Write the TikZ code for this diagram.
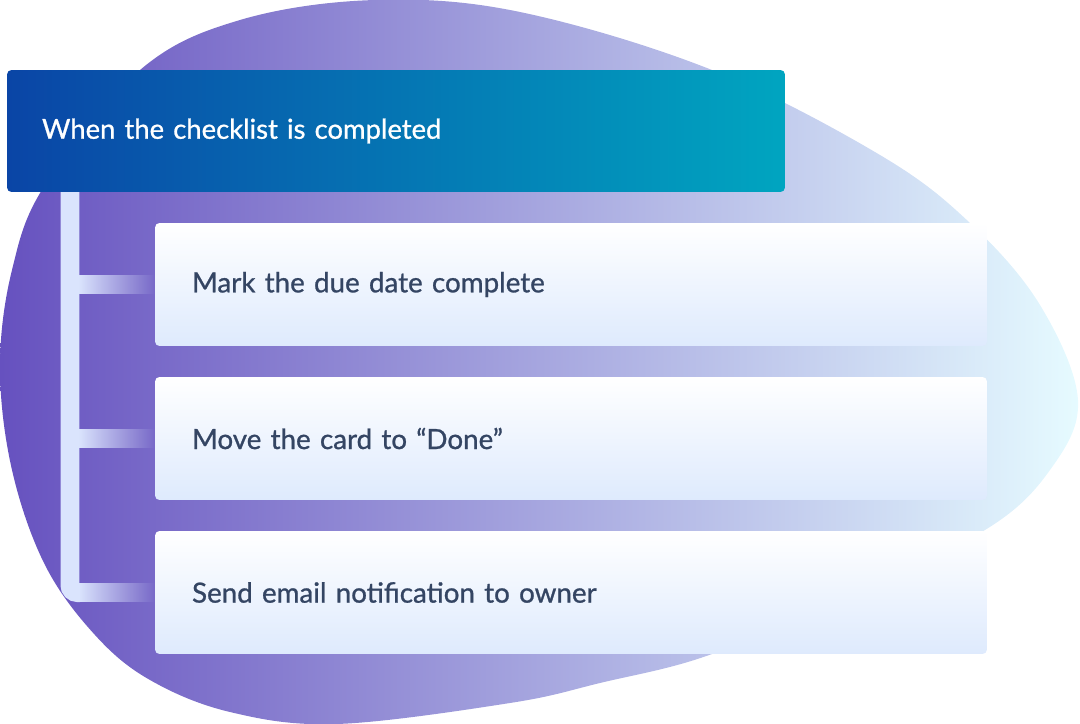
\documentclass[tikz,border=0pt]{standalone}
\usepackage{fontspec}
\setmainfont{Lato}[FakeBold=0.9]
\usepackage{xcolor}
\usetikzlibrary{positioning,calc,fadings}
\definecolor{blobleft}{HTML}{6651BF}
\definecolor{blobmid}{HTML}{9D99DA}
\definecolor{blobright}{HTML}{E6FBFF}
\definecolor{hdleft}{HTML}{0A45A6}
\definecolor{hdright}{HTML}{00A5C0}
\definecolor{cardbot}{HTML}{DEEAFD}
\definecolor{barlight}{HTML}{DAE4FD}
\definecolor{cardink}{HTML}{344563}

\begin{document}
\begin{tikzpicture}[x=0.02cm,y=-0.02cm,
  head/.style={rectangle,rounded corners=2.5pt,left color=hdleft,right color=hdright,
               text=white,minimum width=15.56cm,minimum height=2.44cm,
               inner xsep=0.7cm,text width=14.16cm,align=left,
               font=\fontsize{15.6}{18}\selectfont},
  card/.style={rectangle,rounded corners=2.5pt,top color=white,bottom color=cardbot,
               text=cardink,minimum width=16.64cm,minimum height=2.46cm,
               inner xsep=0.74cm,text width=15.16cm,align=left,
               font=\fontsize{15.8}{18}\selectfont},
  bar/.style={fill=barlight,path fading=east},
  trunkbar/.style={draw=barlight,line width=0.38cm,rounded corners=0.15cm}
]
\useasboundingbox (0,0) rectangle (1080,724);
% background blob
\shade[left color=blobleft,middle color=blobmid,right color=blobright]
  plot[smooth cycle,tension=0.6] coordinates {
  (375,0) (520,12) (712,70) (880,155) (970,223)
  (1040,305) (1078,400) (1050,470) (985,530) (850,592) (712,654)
  (600,683) (510,703) (337,724) (230,712) (150,680) (95,635)
  (45,565) (12,470) (0,367) (12,270) (45,185) (140,70)
  (240,20)};
\node[head] (hdr) at (396,131) {When the checklist is completed};
\coordinate (trunk) at (70,192);
\foreach \y/\k/\txt in {
  284.5/1/{Mark the due date complete},
  438.5/2/{Move the card to “Done”},
  592.5/3/{Send email notification to owner}
} {
  \node[card] (c\k) at (571,\y) {\txt};
  \fill[bar] ($(trunk |- c\k.west)+(9,-9.5)$) rectangle ($(c\k.west)+(0,9.5)$);
}
\draw[trunkbar] (trunk) |- ($(trunk |- c3.west)+(10,0)$);
\end{tikzpicture}
\end{document}
